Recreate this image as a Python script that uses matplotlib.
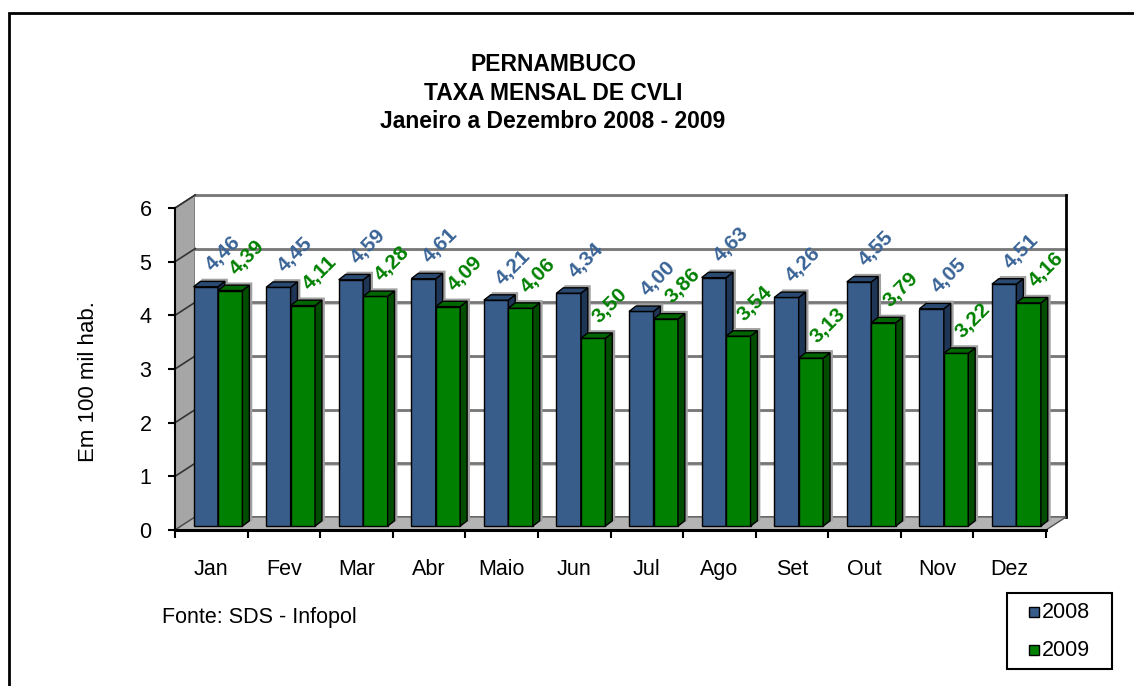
import matplotlib
matplotlib.use('Agg')
import numpy as np
import matplotlib.pyplot as plt
from matplotlib.patches import Polygon, Rectangle

plt.rcParams['font.family'] = ['Liberation Sans', 'DejaVu Sans']

meses = ['Jan', 'Fev', 'Mar', 'Abr', 'Maio', 'Jun', 'Jul', 'Ago', 'Set', 'Out', 'Nov', 'Dez']
taxa_2008 = [4.46, 4.45, 4.59, 4.61, 4.21, 4.34, 4.00, 4.63, 4.26, 4.55, 4.05, 4.51]
taxa_2009 = [4.39, 4.11, 4.28, 4.09, 4.06, 3.50, 3.86, 3.54, 3.13, 3.79, 3.22, 4.16]
anos = ['2008', '2009']
yticks = [0, 1, 2, 3, 4, 5, 6]

# cores (face, lado, topo)
cor_azul = ('#385d8a', '#1f3556', '#2b4a72')
cor_verde = ('#008000', '#004d00', '#006600')
cor_lbl = ['#3a6496', '#008000']

W, H = 1134, 686
fig = plt.figure(figsize=(W / 100, H / 100), dpi=100)
# eixo frontal: x -0.5..11.5 -> px 175..1046, y 0..6 -> px 530..208
ax = fig.add_axes([175 / W, 1 - 530 / H, 871 / W, 322 / H])
ax.set_xlim(-0.5, 11.5)
ax.set_ylim(0, 6)
ax.patch.set_visible(False)

n = len(meses)
ymax = yticks[-1]
# profundidade da parede e das barras (em unidades dos dados)
ddx, ddy = 0.28, 0.245
bdx, bdy = 0.095, 0.10
sx, sy = (ddx - bdx) / 2, (ddy - bdy) / 2
x0, x1 = -0.5, n - 0.5

# parede lateral
ax.add_patch(Polygon([(x0, 0), (x0 + ddx, ddy), (x0 + ddx, ymax + ddy), (x0, ymax)],
                     closed=True, fc='#a6a6a6', ec='#404040', lw=1, zorder=0, clip_on=False))
# parede de fundo
ax.add_patch(Rectangle((x0 + ddx, ddy), x1 - x0, ymax, fc='white', ec='none', zorder=0, clip_on=False))
for t in yticks[1:]:
    ax.plot([x0 + ddx, x1 + ddx], [t + ddy, t + ddy], color='#777777', lw=2, zorder=0.5, clip_on=False)
    ax.plot([x0 + ddx, x1 + ddx], [t + ddy - 0.03, t + ddy - 0.03], color='#cccccc', lw=1.5, zorder=0.4, clip_on=False)
    ax.plot([x0, x0 + ddx], [t, t + ddy], color='#333333', lw=1.2, zorder=0.5, clip_on=False)
ax.plot([x1 + ddx, x1 + ddx], [ddy, ymax + ddy], color='black', lw=2, zorder=0.5, clip_on=False)
# piso
ax.add_patch(Polygon([(x0, 0), (x1, 0), (x1 + ddx, ddy), (x0 + ddx, ddy)],
                     closed=True, fc='#b4b4b4', ec='#505050', lw=1, zorder=0.6, clip_on=False))

largura = 0.337
idx = np.arange(n)
series = [(taxa_2008, cor_azul), (taxa_2009, cor_verde)]
for k, (vals, cores) in enumerate(series):
    pos = idx - largura + sx + k * largura
    barras = ax.bar(pos, vals, largura, bottom=sy, align='edge', color=cores[0],
                    edgecolor='black', lw=1)
    for i, r in enumerate(barras):
        z = 2 + i * 0.1 + k * 0.05
        r.set_zorder(z + 0.01)
        a = r.get_x()
        b = a + r.get_width()
        y0 = r.get_y()
        y1 = y0 + r.get_height()
        # sombra
        ax.add_patch(Polygon([(b, y0), (b + bdx + 0.04, y0 + bdy), (b + bdx + 0.04, y1 + bdy + 0.05),
                              (a + bdx + 0.02, y1 + bdy + 0.05), (a + bdx, y1 + bdy)],
                             closed=True, fc='#a0a0a0', ec='none', zorder=z, clip_on=False))
        ax.add_patch(Polygon([(b, y0), (b + bdx, y0 + bdy), (b + bdx, y1 + bdy), (b, y1)],
                             closed=True, fc=cores[1], ec='black', lw=1, zorder=z + 0.01, clip_on=False))
        ax.add_patch(Polygon([(a, y1), (a + bdx, y1 + bdy), (b + bdx, y1 + bdy), (b, y1)],
                             closed=True, fc=cores[2], ec='black', lw=1, zorder=z + 0.01, clip_on=False))
        ax.annotate(f'{vals[i]:.2f}'.replace('.', ','), (a + largura / 2, y1),
                    xytext=(17, 33), textcoords='offset pixels', rotation=45,
                    ha='center', va='center', fontsize=15, fontweight='bold',
                    color=cor_lbl[k], zorder=5)

# eixos
ax.spines['top'].set_visible(False)
ax.spines['right'].set_visible(False)
ax.spines['left'].set_linewidth(1.5)
ax.spines['bottom'].set_linewidth(2.2)
ax.spines['bottom'].set_zorder(10)
ax.set_yticks(yticks)
ax.set_yticklabels([str(t) for t in yticks], fontsize=15.5)
ax.tick_params(axis='y', length=5, width=1.5, pad=12)
ax.set_xticks(np.arange(-0.5, n, 1))
ax.set_xticklabels([])
ax.set_xticks(idx, minor=True)
ax.set_xticklabels(meses, minor=True, fontsize=15.5)
ax.tick_params(axis='x', which='major', length=6, width=1.5)
ax.tick_params(axis='x', which='minor', length=0, pad=21)

fig.text(553 / W, 1 - 93 / H, 'PERNAMBUCO\nTAXA MENSAL DE CVLI\nJaneiro a Dezembro 2008 - 2009',
         ha='center', va='center', fontsize=16.5, fontweight='bold', linespacing=1.3)
fig.text(88 / W, 1 - 382 / H, 'Em 100 mil hab.', rotation=90, ha='center', va='center', fontsize=16)
fig.text(162 / W, 1 - 617 / H, 'Fonte: SDS - Infopol', ha='left', va='center', fontsize=15.5)

# legenda
fig.patches.append(Rectangle((1007 / W, 1 - 669 / H), 105 / W, 76 / H, transform=fig.transFigure,
                             fill=True, fc='white', ec='black', lw=1.5))
for k, (nome, (vals, cores)) in enumerate(zip(anos, series)):
    yc = 612 + k * 38
    fig.patches.append(Rectangle((1029 / W, 1 - (yc + 5) / H), 10 / W, 10 / H, transform=fig.transFigure,
                                 fc=cores[0], ec='black', lw=1))
    fig.text(1042 / W, 1 - yc / H, nome, ha='left', va='center', fontsize=15.5)

# moldura externa
fig.patches.append(Rectangle((9 / W, -0.1), 1.2, (H - 13) / H + 0.1, transform=fig.transFigure,
                             fill=False, ec='black', lw=2))

fig.savefig('out.png', dpi=100)
